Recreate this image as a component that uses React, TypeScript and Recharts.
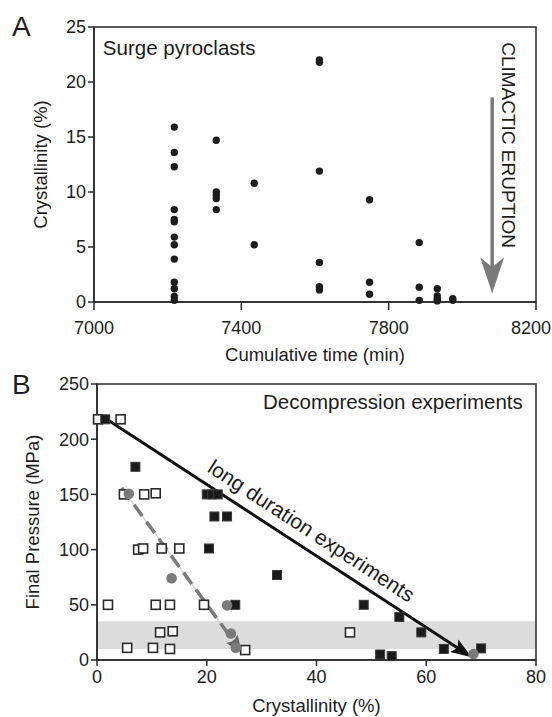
import {
  ReferenceArea,
  ReferenceDot,
  ReferenceLine,
  Scatter,
  ScatterChart,
  XAxis,
  YAxis,
} from "recharts";

const FONT = '"Liberation Sans", Arial, Helvetica, sans-serif';
const INK = "#1c1c1c";
const AXIS = "#2a2a2a";
const GRAY = "#7a7a7a";

// panel A - surge pyroclasts
const timeTicks = [7000, 7400, 7800, 8200];
const crystTicksA = [0, 5, 10, 15, 20, 25];
const surgeTimes = [7218, 7332, 7435, 7612, 7748, 7883, 7932, 7974];
const surgeCryst = [
  [15.9, 13.6, 12.3, 8.4, 7.5, 7.3, 5.9, 5.2, 3.9, 1.8, 1.2, 0.5, 0.15],
  [14.7, 10.0, 9.7, 9.4, 8.4],
  [10.8, 5.2],
  [22.0, 21.8, 11.9, 3.6, 1.4, 1.1],
  [9.3, 1.8, 0.7],
  [5.4, 1.35, 0.15],
  [1.2, 0.55, 0.3, 0.1],
  [0.3, 0.15],
];
const eruptionArrow = [
  {x: 8081, y: 18.6},
  {x: 8081, y: 0.8},
];

// panel B - decompression experiments
const crystTicksB = [0, 20, 40, 60, 80];
const pressureTicks = [0, 50, 100, 150, 200, 250];
const openX = [0.2, 4.3, 4.9, 8.6, 10.7, 7.5, 8.4, 11.8, 15.0, 2.0, 10.7, 13.3, 19.5, 11.5, 13.8, 5.5, 10.2, 13.3, 46.1, 27.0];
const openY = [218, 218, 150, 150, 151, 100, 101, 101, 101, 50, 50, 50, 50, 25, 26, 11, 11, 10, 25, 9];
const filledX = [1.5, 7.0, 20.0, 21.0, 22.0, 21.4, 23.7, 20.4, 32.8, 25.2, 48.6, 55.1, 59.1, 63.2, 51.6, 53.7, 70.0];
const filledY = [218, 175, 150, 150, 150, 130, 130, 101, 77, 50, 50, 39, 25, 10, 5, 3.5, 10.5];
const grayX = [5.8, 13.6, 23.7, 24.4, 25.3, 68.6];
const grayY = [150.5, 74, 49.5, 24, 11, 5.5];
const longArrow = [
  {x: 1.5, y: 219},
  {x: 68.3, y: 2.5},
];
const shortArrow = [
  {x: 4.5, y: 156},
  {x: 26.5, y: 6},
];
const residenceBand = [10, 35];

const zip = (xs: number[], ys: number[]) => xs.map((x, i) => ({x, y: ys[i]}));
const surgeData = surgeTimes.flatMap((t, i) => surgeCryst[i].map((c) => ({x: t, y: c})));
const openData = zip(openX, openY);
const filledData = zip(filledX, filledY);
const grayData = zip(grayX, grayY);

const tickStyle = {fill: INK, fontSize: 18, fontFamily: FONT};
const lineStyle = {stroke: AXIS, strokeWidth: 1.5};

// last label of the time axis sits against the page edge, keep it inside
const timeTick = (p: any) => {
  const last = p.payload.value === timeTicks[timeTicks.length - 1];
  const x = last ? Math.min(p.x + 20, 551) : p.x;
  return (
    <text x={x} y={p.y} dy="0.71em" textAnchor={last ? "end" : "middle"} {...tickStyle}>
      {p.payload.value}
    </text>
  );
};

function yLabel(text: string, cx: number, fallbackY: number) {
  return (props: any) => {
    const vb = props.viewBox;
    const cy = vb ? vb.y + vb.height / 2 : fallbackY;
    return (
      <text x={cx} y={cy} transform={`rotate(-90 ${cx} ${cy})`} textAnchor="middle"
        dominantBaseline="central" fill={INK} fontSize={18.5} fontFamily={FONT}>
        {text}
      </text>
    );
  };
}

function xLabel(text: string, dy: number, fallbackX: number, fallbackY: number) {
  return (props: any) => {
    const vb = props.viewBox;
    const cx = vb ? vb.x + vb.width / 2 : fallbackX;
    const cy = vb ? vb.y + dy : fallbackY;
    return (
      <text x={cx} y={cy} textAnchor="middle" dominantBaseline="central"
        fill={INK} fontSize={18.5} fontFamily={FONT}>
        {text}
      </text>
    );
  };
}

// arrow head points, tip at (x2,y2)
function head(x1: number, y1: number, x2: number, y2: number, len: number, half: number, notch: number) {
  const L = Math.hypot(x2 - x1, y2 - y1) || 1;
  const ux = (x2 - x1) / L;
  const uy = (y2 - y1) / L;
  const bx = x2 - ux * len;
  const by = y2 - uy * len;
  const mx = x2 - ux * (len - notch);
  const my = y2 - uy * (len - notch);
  return `${x2},${y2} ${bx - uy * half},${by + ux * half} ${mx},${my} ${bx + uy * half},${by - ux * half}`;
}

const eruptionShape = (p: any) => {
  const {x1, y1, x2, y2} = p;
  return (
    <g>
      <line x1={x1} y1={y1} x2={x2} y2={y2 - 20} stroke={GRAY} strokeWidth={3.5} />
      <polygon points={head(x1, y1, x2, y2, 36, 12, 10)} fill={GRAY} />
    </g>
  );
};

const longShape = (p: any) => {
  const {x1, y1, x2, y2} = p;
  const L = Math.hypot(x2 - x1, y2 - y1);
  const ux = (x2 - x1) / L;
  const uy = (y2 - y1) / L;
  const ang = (Math.atan2(uy, ux) * 180) / Math.PI;
  const t = 0.535 * L;
  const tx = x1 + ux * t + uy * 11;
  const ty = y1 + uy * t - ux * 11;
  return (
    <g>
      <line x1={x1} y1={y1} x2={x2 - ux * 14} y2={y2 - uy * 14} stroke="#111" strokeWidth={3} />
      <polygon points={head(x1, y1, x2, y2, 21, 7.5, 4)} fill="#111" />
      <text x={tx} y={ty} transform={`rotate(${ang} ${tx} ${ty})`} textAnchor="middle"
        fill={INK} fontSize={21} fontFamily={FONT}>
        long duration experiments
      </text>
    </g>
  );
};

const shortShape = (p: any) => {
  const {x1, y1, x2, y2} = p;
  const L = Math.hypot(x2 - x1, y2 - y1);
  const ux = (x2 - x1) / L;
  const uy = (y2 - y1) / L;
  return (
    <g>
      <line x1={x1} y1={y1} x2={x2} y2={y2} stroke="#cfcfcf" strokeWidth={1.2} />
      <line x1={x1} y1={y1} x2={x2 - ux * 12} y2={y2 - uy * 12} stroke={GRAY}
        strokeWidth={3.5} strokeDasharray="14 7" />
      <polygon points={head(x1, y1, x2, y2, 18, 7, 3)} fill="#666" />
    </g>
  );
};

const blackDot = (p: any) => <circle cx={p.cx} cy={p.cy} r={3.7} fill={INK} />;
const openSquare = (p: any) => (
  <rect x={p.cx - 4.5} y={p.cy - 4.5} width={9} height={9} fill="#fff" stroke="#2a2a2a" strokeWidth={1.6} />
);
const filledSquare = (p: any) => (
  <rect x={p.cx - 4.5} y={p.cy - 4.5} width={9} height={9} fill="#1a1a1a" stroke="#3a3a3a" strokeWidth={1} />
);
const grayDot = (p: any) => <circle cx={p.cx} cy={p.cy} r={5.3} fill={GRAY} />;

function textAt(text: string, size: number, anchor: "start" | "end" | "middle", rotate = 0) {
  return (p: any) => {
    const {cx, cy} = p;
    return (
      <text x={cx} y={cy} textAnchor={anchor} fill={INK} fontSize={size} fontFamily={FONT}
        dominantBaseline={rotate ? "central" : "auto"}
        transform={rotate ? `rotate(${rotate} ${cx} ${cy})` : undefined}>
        {text}
      </text>
    );
  };
}

const letter = (ch: string, top: number) => (
  <div style={{position: "absolute", left: 12, top, fontSize: 28, lineHeight: "28px", fontFamily: FONT, color: INK}}>
    {ch}
  </div>
);

export default function App() {
  return (
    <div style={{position: "absolute", left: 0, top: 0, width: 552, height: 717, background: "#fff", overflow: "hidden"}}>
      <div style={{position: "absolute", left: 0, top: 0}}>
        <ScatterChart width={552} height={365} margin={{top: 27, right: 16, bottom: 0, left: 0}}>
          <XAxis type="number" dataKey="x" domain={[7000, 8200]} ticks={timeTicks} height={63}
            tick={timeTick} axisLine={lineStyle} tickLine={lineStyle} tickSize={8} tickMargin={11}
            label={xLabel("Cumulative time (min)", 52, 315, 354)} />
          <YAxis type="number" dataKey="y" domain={[0, 25]} ticks={crystTicksA} width={94}
            tick={tickStyle} axisLine={lineStyle} tickLine={lineStyle} tickSize={6} tickMargin={2}
            label={yLabel("Crystallinity (%)", 40, 164)} />
          <ReferenceArea x1={7000} x2={8200} y1={0} y2={25} fill="none" stroke={AXIS} strokeWidth={1.5} />
          <Scatter data={surgeData} isAnimationActive={false} shape={blackDot} />
          <ReferenceLine segment={eruptionArrow} shape={eruptionShape} />
          <ReferenceDot x={7024} y={22.5} r={0} shape={textAt("Surge pyroclasts", 20.5, "start")} />
          <ReferenceDot x={8124} y={14.26} r={0} shape={textAt("CLIMACTIC ERUPTION", 19, "middle", 90)} />
        </ScatterChart>
      </div>
      <div style={{position: "absolute", left: 0, top: 340}}>
        <ScatterChart width={552} height={377} margin={{top: 44, right: 16, bottom: 0, left: 0}}>
          <XAxis type="number" dataKey="x" domain={[0, 80]} ticks={crystTicksB} height={57}
            tick={tickStyle} axisLine={lineStyle} tickLine={lineStyle} tickSize={6} tickMargin={4}
            label={xLabel("Crystallinity (%)", 45, 316, 365)} />
          <YAxis type="number" dataKey="y" domain={[0, 250]} ticks={pressureTicks} width={97}
            tick={tickStyle} axisLine={lineStyle} tickLine={lineStyle} tickSize={6} tickMargin={2}
            label={yLabel("Final Pressure (MPa)", 32, 182)} />
          <ReferenceArea x1={0} x2={80} y1={residenceBand[0]} y2={residenceBand[1]} fill="#dcdcdc" fillOpacity={1} stroke="none" />
          <ReferenceArea x1={0} x2={80} y1={0} y2={250} fill="none" stroke={AXIS} strokeWidth={1.5} />
          <Scatter data={openData} isAnimationActive={false} shape={openSquare} />
          <Scatter data={filledData} isAnimationActive={false} shape={filledSquare} />
          <ReferenceLine segment={shortArrow} shape={shortShape} />
          <Scatter data={grayData} isAnimationActive={false} shape={grayDot} />
          <ReferenceLine segment={longArrow} shape={longShape} />
          <ReferenceDot x={77.6} y={227.5} r={0} shape={textAt("Decompression experiments", 20.5, "end")} />
        </ScatterChart>
      </div>
      {letter("A", 13)}
      {letter("B", 371)}
    </div>
  );
}
